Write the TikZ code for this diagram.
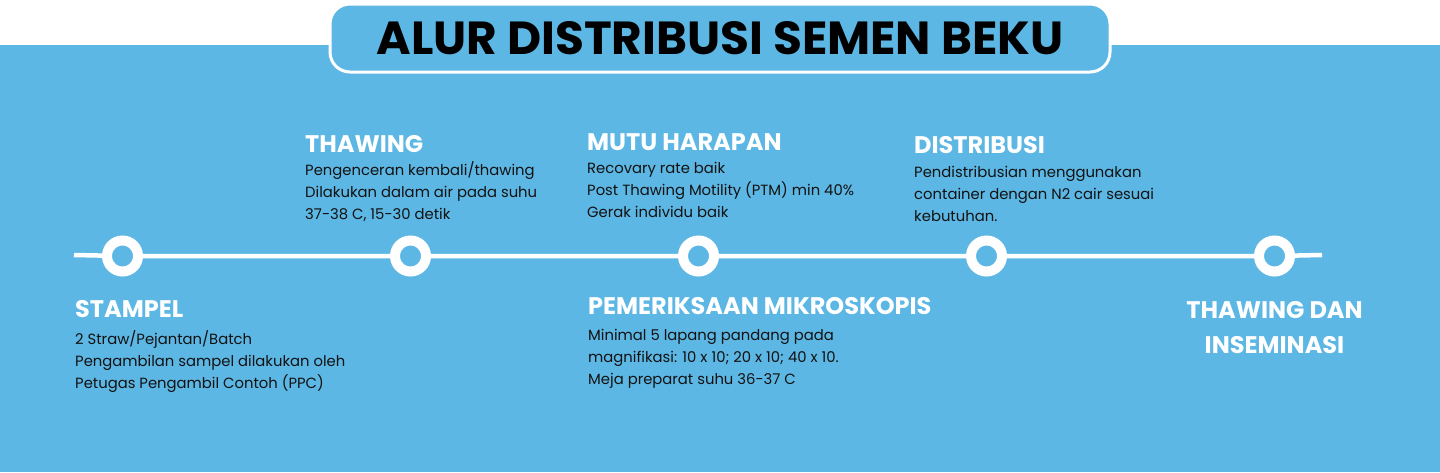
\documentclass[tikz,border=0pt]{standalone}
\usepackage{fontspec}
\setmainfont{Poppins}
\usepackage{graphicx}
\definecolor{bgblue}{RGB}{93,183,228}
\definecolor{bodytext}{RGB}{18,18,18}
\tikzset{
  titlebox/.style={draw=white, line width=3pt, fill=bgblue, rounded corners=20pt,
    minimum width=780pt, minimum height=68pt, inner sep=0pt, text=black},
  dot/.style={circle, fill=bgblue, draw=white, line width=10pt, minimum size=31pt, inner sep=0pt},
  tline/.style={draw=white, line width=4.5pt},
  head/.style={font=\fontsize{24}{35}\selectfont\bfseries, text=white, anchor=base west, inner sep=0pt},
  body/.style={font=\fontsize{14.8}{22}\selectfont, text=bodytext, anchor=base west, inner sep=0pt}
}
\begin{document}
\begin{tikzpicture}[x=1pt,y=-1pt]
\useasboundingbox (0,0) rectangle (1440,472);
\fill[white] (0,0) rectangle (1440,472);
\fill[bgblue] (0,45) rectangle (1440,472);
\node[titlebox] (title) at (720,38) {\resizebox{687pt}{33pt}{\bfseries ALUR DISTRIBUSI SEMEN BEKU}};
% timeline
\coordinate (ls) at (74,255);
\coordinate (le) at (1322,255);
\node[dot] (c1) at (122.5,256) {};
\node[dot] (c2) at (410.5,256) {};
\node[dot] (c3) at (698.5,256) {};
\node[dot] (c4) at (986.5,256) {};
\node[dot] (c5) at (1274.5,256) {};
\draw[tline] (ls) -- (c1) -- (c2) -- (c3) -- (c4) -- (c5) -- (le);
% texts
\node[head] (h1) at (75,317) {STAMPEL};
\node[body] (b1) at (75,344) {\parbox[t]{300pt}{2 Straw/Pejantan/Batch\\Pengambilan sampel dilakukan oleh\\Petugas Pengambil Contoh (PPC)}};
\node[head] (h2) at (305,152) {THAWING};
\node[body] (b2) at (305,175) {\parbox[t]{300pt}{Pengenceran kembali/thawing\\Dilakukan dalam air pada suhu\\37-38 C, 15-30 detik}};
\node[head] (h3) at (587,150) {MUTU HARAPAN};
\node[body] (b3) at (587,173) {\parbox[t]{300pt}{Recovary rate baik\\Post Thawing Motility (PTM) min 40\%\\Gerak individu baik}};
\node[head] (h4) at (914,153) {DISTRIBUSI};
\node[body] (b4) at (914,177) {\parbox[t]{300pt}{Pendistribusian menggunakan\\container dengan N2 cair sesuai\\kebutuhan.}};
\node[head] (h5) at (588,314) {PEMERIKSAAN MIKROSKOPIS};
\node[body] (b5) at (588,340) {\parbox[t]{300pt}{Minimal 5 lapang pandang pada\\magnifikasi: 10 x 10; 20 x 10; 40 x 10.\\Meja preparat suhu 36-37 C}};
\node[head, anchor=base] (h6) at (1274.5,318) {\parbox[t]{220pt}{\centering THAWING DAN\\INSEMINASI}};
\end{tikzpicture}
\end{document}
